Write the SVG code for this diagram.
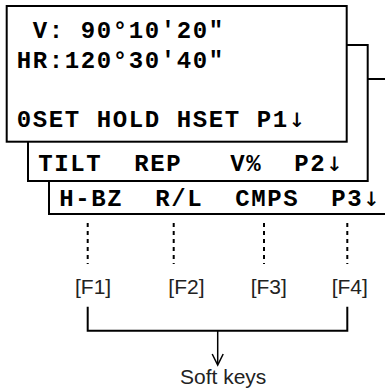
<svg xmlns="http://www.w3.org/2000/svg" width="385" height="392" viewBox="0 0 385 392">
<style>
.box{fill:#fff;stroke:#000;stroke-width:2}
.lcd{font-family:"Liberation Mono","Courier New",monospace;font-weight:bold;font-size:24px;letter-spacing:1.6px;fill:#000}
.arr{font-family:"DejaVu Sans Mono",monospace;font-weight:normal;font-size:27px}
.key{font-family:"Liberation Sans",Arial,sans-serif;font-size:21px;fill:#222}
.dot{stroke:#000;stroke-width:2;stroke-dasharray:4 4;fill:none}
.ln{stroke:#000;stroke-width:2;fill:none}
</style>
<g id="screen3">
<rect class="box" x="49" y="79" width="360" height="135"/>
<text class="lcd" x="59.3" y="206" xml:space="preserve">H-BZ  R/L  CMPS  P3<tspan class="arr">↓</tspan></text>
</g>
<g id="screen2">
<rect class="box" x="28" y="45" width="339.7" height="136"/>
<text class="lcd" x="38.3" y="170.5" xml:space="preserve">TILT  REP   V%  P2<tspan class="arr">↓</tspan></text>
</g>
<g id="screen1">
<rect class="box" x="6.7" y="6" width="340" height="135.7"/>
<text class="lcd" x="16.7" y="38" xml:space="preserve"> V: 90°10'20"</text>
<text class="lcd" x="16.7" y="67.5" xml:space="preserve">HR:120°30'40"</text>
<text class="lcd" x="16.7" y="127" xml:space="preserve">0SET HOLD HSET P1<tspan class="arr">↓</tspan></text>
</g>
<g id="f1"><text class="key" x="75" y="294">[F1]</text></g>
<g id="f2"><text class="key" x="168.3" y="294">[F2]</text></g>
<g id="f3"><text class="key" x="250.7" y="294">[F3]</text></g>
<g id="f4"><text class="key" x="331.7" y="294">[F4]</text></g>
<g id="softkeys"><text class="key" x="180" y="384">Soft keys</text></g>
<g id="connectors">
<line class="dot" x1="87.7" y1="223" x2="87.7" y2="264"/>
<line class="dot" x1="173.7" y1="223" x2="173.7" y2="264"/>
<line class="dot" x1="264" y1="223" x2="264" y2="264"/>
<line class="dot" x1="347.3" y1="223" x2="347.3" y2="264"/>
<path class="ln" d="M87.7 306.7 V330.7 H347.3 V306.7"/>
<line class="ln" x1="217.7" y1="330.7" x2="217.7" y2="364" style="stroke-width:1.5"/>
<path class="ln" d="M212.2 354 L217.7 365 L223.2 354" style="stroke-width:1.5"/>
</g>
</svg>
